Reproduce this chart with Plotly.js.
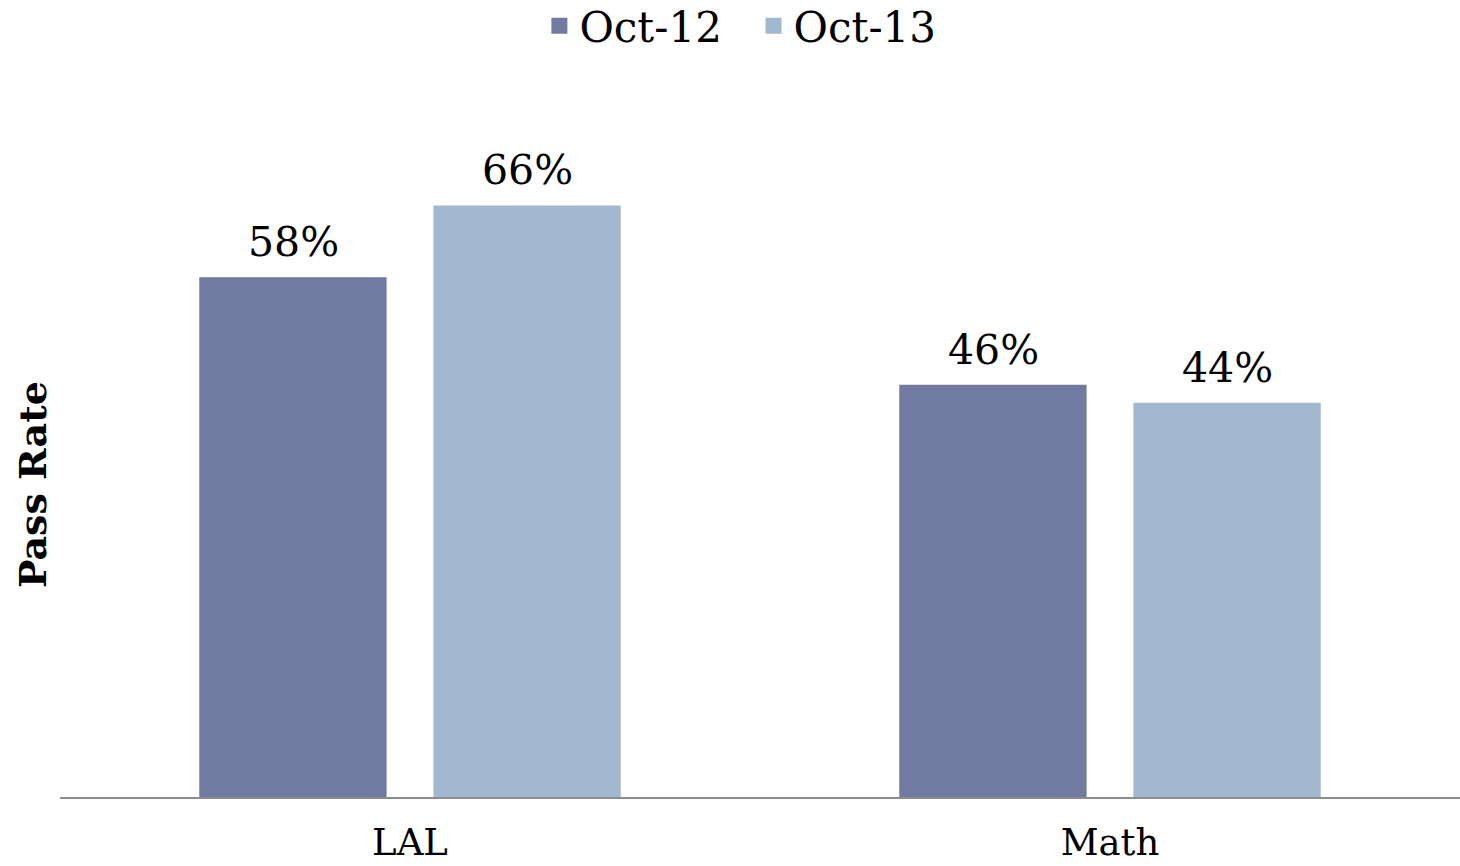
<!DOCTYPE html>
<html>
<head>
<meta charset="utf-8">
<script src="https://cdn.plot.ly/plotly-3.0.1.min.js"></script>
<style>html,body{margin:0;padding:0;background:#fff}#chart{width:1460px;height:866px}</style>
</head>
<body>
<div id="chart"></div>
<script>
var categories = ["LAL", "Math"];
var seriesNames = ["Oct-12", "Oct-13"];
var oct12 = [0.58, 0.46];
var oct13 = [0.66, 0.44];
var colors = ["#717AA0", "#A2B8CF"];
var FONT = "DejaVu Serif, serif";

var allSeries = [oct12, oct13];
var traces = allSeries.map(function (vals, i) {
  return {
    type: "bar",
    name: seriesNames[i],
    x: categories,
    y: vals,
    marker: { color: colors[i] },
    showlegend: false,
    hoverinfo: "skip"
  };
});
// legend entries with larger square swatches
seriesNames.forEach(function (nm, i) {
  traces.push({
    type: "scatter", mode: "markers",
    name: i < seriesNames.length - 1 ? nm + "\u00A0\u00A0" : nm,
    x: [null], y: [null],
    marker: { symbol: "square", size: 20, color: colors[i] },
    showlegend: true, hoverinfo: "skip"
  });
});

var annotations = [];
allSeries.forEach(function (vals, i) {
  vals.forEach(function (v, j) {
    annotations.push({
      x: categories[j], y: v, xref: "x", yref: "y",
      text: Math.round(v * 100) + "%",
      showarrow: false, yanchor: "bottom",
      xshift: (i === 0 ? -1 : 1) * 117,
      yshift: 9,
      font: { family: FONT, size: 41, color: "#000" }
    });
  });
});
annotations.push({
  xref: "paper", yref: "paper", x: -0.02, y: 0.435,
  xanchor: "center", yanchor: "middle", textangle: -90,
  text: "<b>Pass Rate</b>", showarrow: false,
  font: { family: FONT, size: 38, color: "#000" }
});

var layout = {
  width: 1460, height: 866,
  margin: { l: 60, r: 0, t: 80, b: 69 },
  paper_bgcolor: "#fff", plot_bgcolor: "#fff",
  barmode: "group", bargap: 0.331, bargroupgap: 0.2,
  font: { family: FONT, color: "#000" },
  showlegend: true,
  legend: {
    orientation: "h", xref: "paper", yref: "container",
    x: 0.486, xanchor: "center", y: 0.97, yanchor: "middle",
    font: { family: FONT, size: 42, color: "#000" },
    itemwidth: 30, traceorder: "normal", tracegroupgap: 0
  },
  xaxis: {
    showline: true, linecolor: "#8c8c8c", linewidth: 1.5,
    ticks: "", ticklabelstandoff: 12,
    tickfont: { family: FONT, size: 37, color: "#000" },
    showgrid: false, zeroline: false
  },
  yaxis: {
    range: [0, 0.8], showticklabels: false, showgrid: false,
    zeroline: false, showline: false, ticks: ""
  },
  annotations: annotations
};

Plotly.newPlot("chart", traces, layout, { displayModeBar: false, staticPlot: true });
</script>
</body>
</html>
